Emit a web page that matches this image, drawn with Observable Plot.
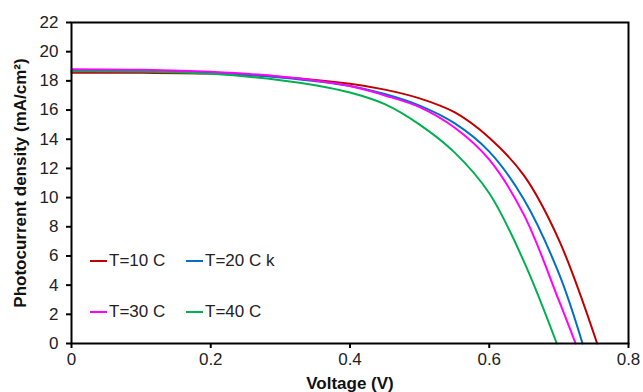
<!DOCTYPE html>
<html>
<head>
<meta charset="utf-8">
<script src="https://cdn.jsdelivr.net/npm/d3@7"></script>
<script src="https://cdn.jsdelivr.net/npm/@observablehq/plot@0.6"></script>
<style>
  html, body { margin: 0; padding: 0; background: #fff; }
  #wrap { position: relative; width: 643px; height: 392px; font-family: "Liberation Sans", Arial, sans-serif; }
  .leg { position: absolute; display: flex; align-items: center; font-size: 17px; color: #222; white-space: nowrap; }
  .leg span.sw { display: inline-block; width: 17px; height: 2px; margin-right: 2px; }
</style>
</head>
<body>
<div id="wrap"></div>
<script>
// Series names and colours
const seriesNames = ["T=10 C", "T=20 C k", "T=30 C", "T=40 C"];
const seriesColors = ["#C00000", "#0070C0", "#FF00FF", "#00B050"];

// Voltage (V) and photocurrent density (mA/cm²) per series
const v10 = [0, 0.1, 0.2, 0.3, 0.4, 0.45, 0.5, 0.55, 0.6, 0.65, 0.7, 0.755];
const j10 = [18.55, 18.55, 18.5, 18.27, 17.8, 17.4, 16.8, 15.85, 14.1, 11.5, 7.1, 0];

const v20 = [0, 0.1, 0.2, 0.3, 0.4, 0.45, 0.5, 0.55, 0.6, 0.65, 0.7, 0.734];
const j20 = [18.68, 18.66, 18.55, 18.23, 17.65, 17.1, 16.3, 15.1, 13.15, 9.85, 4.8, 0];

const v30 = [0, 0.1, 0.2, 0.3, 0.4, 0.45, 0.5, 0.55, 0.6, 0.65, 0.7, 0.724];
const j30 = [18.8, 18.76, 18.62, 18.3, 17.65, 17.0, 16.2, 14.8, 12.6, 8.8, 2.95, 0];

const v40 = [0, 0.1, 0.2, 0.3, 0.35, 0.4, 0.45, 0.5, 0.55, 0.6, 0.65, 0.697];
const j40 = [18.66, 18.64, 18.48, 18.05, 17.7, 17.2, 16.4, 15.0, 13.1, 10.3, 5.6, 0];

const xTicks = [0, 0.2, 0.4, 0.6, 0.8];
const yTicks = [0, 2, 4, 6, 8, 10, 12, 14, 16, 18, 20, 22];

const xLabel = "Voltage (V)";
const yLabel = "Photocurrent density (mA/cm²)";

const allV = [v10, v20, v30, v40];
const allJ = [j10, j20, j30, j40];
const drawOrder = [0, 1, 3, 2];

const rows = [];
for (const s of drawOrder) {
  allV[s].forEach((v, i) => rows.push({series: seriesNames[s], v, j: allJ[s][i]}));
}

const chart = Plot.plot({
  width: 643,
  height: 392,
  marginLeft: 71,
  marginRight: 15,
  marginTop: 22,
  marginBottom: 49,
  style: {fontFamily: "Liberation Sans, Arial, sans-serif", fontSize: "17px", color: "#222", background: "#fff"},
  x: {domain: [0, 0.8]},
  y: {domain: [0, 22]},
  color: {domain: seriesNames, range: seriesColors},
  marks: [
    Plot.axisX({ticks: xTicks, tickFormat: d => String(d), tickSize: 5, tickPadding: 4, label: null, strokeWidth: 2, stroke: "black"}),
    Plot.axisY({ticks: yTicks, tickFormat: d => String(d), tickSize: 5, tickPadding: 8, label: null, strokeWidth: 2, stroke: "black"}),
    Plot.line(rows, {x: "v", y: "j", z: "series", stroke: "series", strokeWidth: 2, curve: "catmull-rom"}),
    Plot.frame({stroke: "black", strokeWidth: 2}),
    Plot.text([xLabel], {frameAnchor: "bottom", dy: 45, fontWeight: "bold", fontSize: 17, fill: "#111", text: d => d}),
    Plot.text([yLabel], {frameAnchor: "left", dx: -51, rotate: -90, textAnchor: "middle", fontWeight: "bold", fontSize: 17, fill: "#111", text: d => d})
  ]
});

const wrap = document.getElementById("wrap");
wrap.appendChild(chart);

// Legend (inside the plot area, two rows of two)
const legendPos = [[90, 261], [186, 261], [90, 312], [186, 312]];
seriesNames.forEach((name, i) => {
  const d = document.createElement("div");
  d.className = "leg";
  d.style.left = legendPos[i][0] + "px";
  d.style.top = (legendPos[i][1] - 11) + "px";
  d.style.height = "22px";
  const sw = document.createElement("span");
  sw.className = "sw";
  sw.style.background = seriesColors[i];
  d.appendChild(sw);
  d.appendChild(document.createTextNode(name));
  wrap.appendChild(d);
});
</script>
</body>
</html>
